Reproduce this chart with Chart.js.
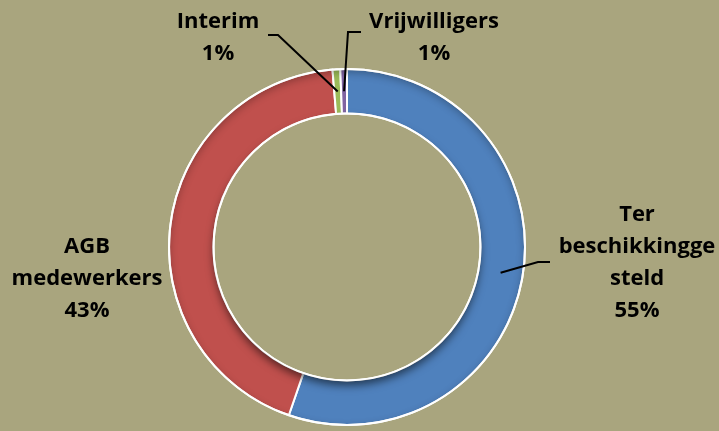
<!DOCTYPE html>
<html>
<head>
<meta charset="utf-8">
<script src="https://cdn.jsdelivr.net/npm/chart.js@4/dist/chart.umd.min.js"></script>
<style>
html, body { margin: 0; padding: 0; background: #a9a57e; }
#wrap { width: 719px; height: 431px; }
</style>
</head>
<body>
<div id="wrap"><canvas id="chart" width="719" height="431"></canvas></div>
<script>
// Data
const categories = ['Ter beschikkinggesteld', 'AGB medewerkers', 'Interim', 'Vrijwilligers'];
const labelLines = [['Ter', 'beschikkingge', 'steld'], ['AGB', 'medewerkers'], ['Interim'], ['Vrijwilligers']];
const shares = [55.3, 43.4, 0.7, 0.6];
const sliceColors = ['#4f81bd', '#c0504d', '#9bbb59', '#8064a2'];

// where each label block sits (centre of first line) and its leader line
const labelSpots = [
    { x: 637, y: 215, leader: [[550, 262], [538, 262]] },
    { x: 87, y: 247, leader: null },
    { x: 218, y: 22, leader: [[268, 35], [278, 35]] },
    { x: 434, y: 22, leader: [[361, 32], [348, 32]] }
];

const ringLabels = {
    id: 'ringLabels',
    afterDatasetsDraw(chart) {
        const ctx = chart.ctx;
        const arcs = chart.getDatasetMeta(0).data;
        if (!arcs.length) return;
        const { x: cx, y: cy, innerRadius: ri, outerRadius: ro } = arcs[0];

        // soft inner shadow on the ring
        ctx.save();
        ctx.beginPath();
        ctx.arc(cx, cy, ro, 0, Math.PI * 2);
        ctx.arc(cx, cy, ri, 0, Math.PI * 2, true);
        ctx.clip();
        ctx.shadowColor = 'rgba(0,0,0,0.55)';
        ctx.shadowBlur = 9;
        ctx.shadowOffsetY = 5;
        ctx.beginPath();
        ctx.arc(cx, cy, ri, 0, Math.PI * 2);
        ctx.fillStyle = '#000';
        ctx.fill();
        ctx.shadowColor = 'rgba(0,0,0,0.3)';
        ctx.shadowOffsetY = 3;
        ctx.beginPath();
        ctx.rect(0, 0, chart.width, chart.height);
        ctx.arc(cx, cy, ro, 0, Math.PI * 2, true);
        ctx.fill();
        ctx.restore();

        ctx.save();
        ctx.strokeStyle = '#fff';
        ctx.lineWidth = 2;
        ctx.beginPath();
        ctx.arc(cx, cy, ro, 0, Math.PI * 2);
        ctx.stroke();
        ctx.beginPath();
        ctx.arc(cx, cy, ri, 0, Math.PI * 2);
        ctx.stroke();
        ctx.restore();

        ctx.save();
        ctx.font = 'bold 22px "Open Sans"';
        ctx.fillStyle = '#000';
        ctx.textAlign = 'center';
        ctx.textBaseline = 'middle';
        arcs.forEach((arc, i) => {
            const spot = labelSpots[i];
            const lines = labelLines[i].concat(Math.round(shares[i]) + '%');
            lines.forEach((t, j) => ctx.fillText(t, spot.x, spot.y + j * 32));
            if (spot.leader) {
                const p = arc.tooltipPosition();
                ctx.strokeStyle = '#000';
                ctx.lineWidth = 2;
                ctx.beginPath();
                ctx.moveTo(spot.leader[0][0], spot.leader[0][1]);
                ctx.lineTo(spot.leader[1][0], spot.leader[1][1]);
                ctx.lineTo(p.x, p.y);
                ctx.stroke();
            }
        });
        ctx.restore();
    }
};

new Chart(document.getElementById('chart'), {
    type: 'doughnut',
    data: {
        labels: categories,
        datasets: [{ data: shares, backgroundColor: sliceColors, borderColor: '#fff', borderWidth: 2, hoverOffset: 0 }]
    },
    options: {
        responsive: false,
        animation: false,
        cutout: '75%',
        layout: { padding: { top: 68, bottom: 5, left: 0, right: 25 } },
        plugins: { legend: { display: false }, tooltip: { enabled: false } }
    },
    plugins: [ringLabels]
});
</script>
</body>
</html>
